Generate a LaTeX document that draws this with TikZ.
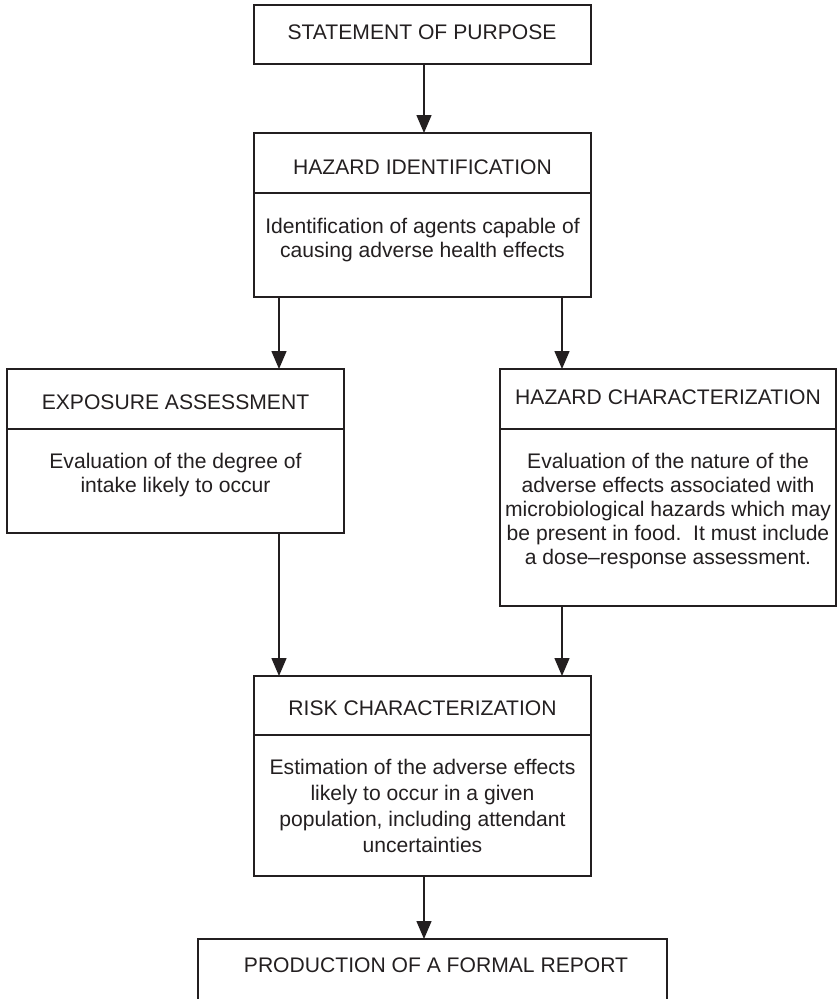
\documentclass[tikz,border=0pt]{standalone}
\usepackage{fontspec}
\setmainfont{Liberation Sans}
\usetikzlibrary{arrows.meta}
\definecolor{ink}{HTML}{231F20}
\begin{document}
\begin{tikzpicture}[x=1pt,y=-1pt,
  part/.style={draw=ink, line width=1.4pt, inner sep=0pt, outer sep=0pt},
  lbl/.style={font=\fontsize{21.1}{24}\selectfont, text=ink, inner sep=0pt, anchor=base},
  lblwide/.style={font=\fontsize{21.1}{26.3}\selectfont, text=ink, inner sep=0pt, anchor=base},
  arr/.style={draw=ink, line width=1.4pt, -{Triangle[width=15pt,length=18pt]}}
]
\useasboundingbox (0,0) rectangle (837,999);
\clip (0,0) rectangle (837,999);

% boxes: heading part and description part
\node[part, minimum width=337pt, minimum height=59pt] (purpose) at (422.5,34.5) {};
\node[part, minimum width=337pt, minimum height=60pt] (hidT) at (422.5,163) {};
\node[part, minimum width=337pt, minimum height=104pt] (hidB) at (422.5,245) {};
\node[part, minimum width=337pt, minimum height=60pt] (expT) at (175.5,399) {};
\node[part, minimum width=337pt, minimum height=104pt] (expB) at (175.5,481) {};
\node[part, minimum width=336pt, minimum height=60pt] (hchT) at (668,399) {};
\node[part, minimum width=336pt, minimum height=177pt] (hchB) at (668,517.5) {};
\node[part, minimum width=337pt, minimum height=59pt] (riskT) at (422.5,705.5) {};
\node[part, minimum width=337pt, minimum height=141pt] (riskB) at (422.5,805.5) {};
\node[part, minimum width=469pt, minimum height=100pt] (report) at (432.5,989) {};

% texts
\node[lbl] (tPurpose) at (422,39) {STATEMENT OF PURPOSE};
\node[lbl] (tHid) at (422.5,174) {HAZARD IDENTIFICATION};
\node[lbl] (dHid) at (422.5,233) {\begin{tabular}[t]{@{}c@{}}Identification of agents capable of\\ causing adverse health effects\end{tabular}};
\node[lbl] (tExp) at (175.5,409) {EXPOSURE ASSESSMENT};
\node[lbl] (dExp) at (175.5,468) {\begin{tabular}[t]{@{}c@{}}Evaluation of the degree of\\ intake likely to occur\end{tabular}};
\node[lbl] (tHch) at (668,404) {HAZARD CHARACTERIZATION};
\node[lbl] (dHch) at (668,468) {\begin{tabular}[t]{@{}c@{}}Evaluation of the nature of the\\ adverse effects associated with\\ microbiological hazards which may\\ be present in food.\ \ It must include\\ a dose--response assessment.\end{tabular}};
\node[lbl] (tRisk) at (422.5,715) {RISK CHARACTERIZATION};
\node[lblwide] (dRisk) at (422.5,774) {\begin{tabular}[t]{@{}c@{}}Estimation of the adverse effects\\ likely to occur in a given\\ population, including attendant\\ uncertainties\end{tabular}};
\node[lbl] (tReport) at (436,972) {PRODUCTION OF A FORMAL REPORT};

% connector columns
\coordinate (colL) at (279,0);
\coordinate (colM) at (424,0);
\coordinate (colR) at (562,0);

% connectors
\draw[arr] (purpose.south -| colM) -- (hidT.north -| colM);
\draw[arr] (hidB.south -| colL) -- (expT.north -| colL);
\draw[arr] (hidB.south -| colR) -- (hchT.north -| colR);
\draw[arr] (expB.south -| colL) -- (riskT.north -| colL);
\draw[arr] (hchB.south -| colR) -- (riskT.north -| colR);
\draw[arr] (riskB.south -| colM) -- (report.north -| colM);
\end{tikzpicture}
\end{document}
